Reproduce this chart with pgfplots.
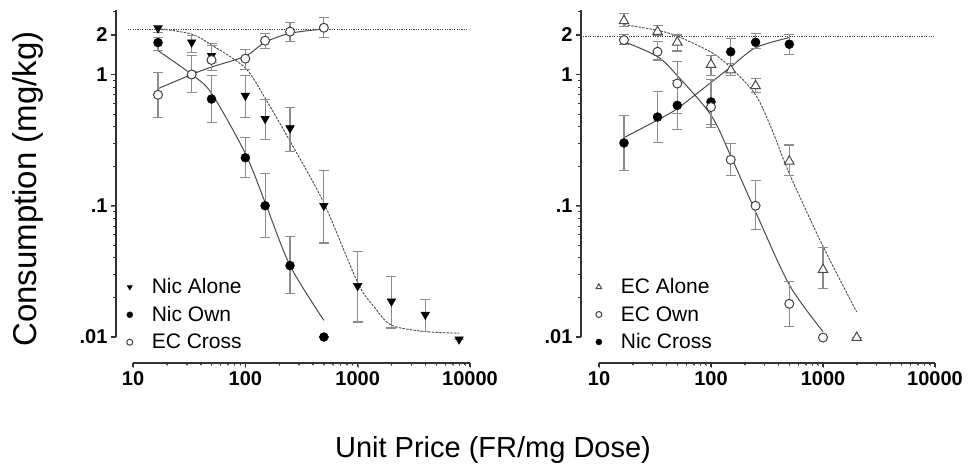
\documentclass[border=0pt]{standalone}
\usepackage{fontspec}
\setmainfont{Liberation Sans}
\usepackage{pgfplots}
\pgfplotsset{compat=1.18}

\definecolor{fitgray}{HTML}{4A4A4A}
\definecolor{errgray}{HTML}{8C8C8C}

\begin{document}
\begin{tikzpicture}
\path[use as bounding box] (0,0) rectangle (971pt,473pt);

%%%%%%%% left panel: nicotine %%%%%%%%
% tick labels of the x axis, set apart below the data
\begin{axis}[at={(133pt,110pt)}, anchor=south west, scale only axis, width=337pt, height=5pt,
  xmode=log, xmin=10, xmax=10000, ymin=0, ymax=1,
  axis x line*=bottom, hide y axis,
  tick align=outside, major tick length=5pt, minor tick length=3pt,
  xtick={10,100,1000,10000}, xticklabels={10,100,1000,10000},
  tick label style={font=\fontsize{20}{20}\selectfont\bfseries}]
\end{axis}
% tick labels of the y axis, set apart to the left
\begin{axis}[at={(116pt,136pt)}, anchor=south west, scale only axis, width=5pt, height=327pt,
  ymode=log, ymin=0.01, ymax=3.1, xmin=0, xmax=1,
  axis y line*=left, hide x axis,
  tick align=outside, major tick length=5pt, minor tick length=3pt,
  ytick={0.01,0.1,1,2}, yticklabels={.01,.1,1,2},
  tick label style={font=\fontsize{20}{20}\selectfont\bfseries}]
\end{axis}

\begin{axis}[
  at={(133pt,136pt)}, anchor=south west,
  scale only axis, width=337pt, height=327pt,
  xmode=log, ymode=log,
  xmin=10, xmax=10000, ymin=0.01, ymax=3.1,
  hide axis, clip=false,
  legend cell align=left,
  legend style={draw=none, fill=none, inner sep=0pt, row sep=7pt, column sep=17pt,
    font=\fontsize{21}{21}\selectfont, at={(-0.019,0.185)}, anchor=north west},
]
\addplot[black!75, line width=1pt, dash pattern=on 1.2pt off 1.2pt, forget plot]
  coordinates {(9,2.2) (9600,2.2)};

% fitted curves
\addplot[smooth, fitgray, line width=0.9pt, dash pattern=on 2.5pt off 1.2pt, forget plot] coordinates {
  (16.7,2.24) (33.3,2.03) (50,1.68) (100,1.12) (150,0.66) (250,0.31)
  (500,0.105) (1000,0.026) (1400,0.017) (2000,0.0123) (4000,0.011) (8000,0.0107)};
\addplot[smooth, fitgray, line width=1pt, forget plot] coordinates {
  (16.7,1.52) (33.3,1.0) (50,0.72) (100,0.25) (150,0.106) (250,0.035) (500,0.0134)};
\addplot[smooth, fitgray, line width=1pt, forget plot] coordinates {
  (16.7,0.78) (33.3,1.0) (50,1.14) (100,1.38) (150,1.76) (250,2.06) (500,2.22)};

% Nic Alone
\addplot[only marks, mark=triangle*, mark size=5pt, mark options={rotate=180, fill=black, draw=black},
  legend image post style={mark size=3pt},
  error bars/y dir=both, error bars/y explicit,
  error bars/error bar style={errgray, line width=1.1pt},
  error bars/error mark options={rotate=90, mark size=5pt, errgray, line width=1.1pt}]
coordinates {
  (16.7,2.25) += (0,0.12) -= (0,0.15)
  (33.3,1.76) += (0,0.22) -= (0,0.28)
  (50,1.39) += (0,0.27) -= (0,0.15)
  (100,0.69) += (0,0.29) -= (0,0.22)
  (150,0.46) += (0,0.18) -= (0,0.14)
  (250,0.39) += (0,0.17) -= (0,0.13)
  (500,0.1) += (0,0.085) -= (0,0.048)
  (1000,0.0245) += (0,0.0205) -= (0,0.0115)
  (2000,0.0187) += (0,0.0103) -= (0,0.007)
  (4000,0.0148) += (0,0.0046) -= (0,0.0038)
  (8000,0.0096) += (0,0) -= (0,0)
};
\addlegendentry{Nic Alone}
% Nic Own
\addplot[only marks, mark=*, mark size=4.5pt, mark options={fill=black, draw=black},
  legend image post style={mark size=3pt},
  error bars/y dir=both, error bars/y explicit,
  error bars/error bar style={errgray, line width=1.1pt},
  error bars/error mark options={rotate=90, mark size=5pt, errgray, line width=1.1pt}]
coordinates {
  (16.7,1.75) += (0,0.17) -= (0,0.22)
  (33.3,1.0) += (0,0.05) -= (0,0.05)
  (50,0.65) += (0,0.33) -= (0,0.22)
  (100,0.232) += (0,0.1) -= (0,0.067)
  (150,0.1) += (0,0.076) -= (0,0.043)
  (250,0.035) += (0,0.023) -= (0,0.0135)
  (500,0.01) += (0,0) -= (0,0)
};
\addlegendentry{Nic Own}
% EC Cross
\addplot[only marks, mark=*, mark size=4.5pt, mark options={fill=white, draw=black!75, line width=1pt},
  legend image post style={mark size=3pt},
  error bars/y dir=both, error bars/y explicit,
  error bars/error bar style={errgray, line width=1.1pt},
  error bars/error mark options={rotate=90, mark size=5pt, errgray, line width=1.1pt}]
coordinates {
  (16.7,0.70) += (0,0.34) -= (0,0.23)
  (33.3,1.0) += (0,0.4) -= (0,0.27)
  (50,1.29) += (0,0.42) -= (0,0.22)
  (100,1.32) += (0,0.22) -= (0,0.22)
  (150,1.81) += (0,0.23) -= (0,0.24)
  (250,2.12) += (0,0.38) -= (0,0.33)
  (500,2.27) += (0,0.43) -= (0,0.37)
};
\addlegendentry{EC Cross}
\end{axis}

%%%%%%%% right panel: e-cigarette %%%%%%%%
\begin{axis}[at={(599pt,110pt)}, anchor=south west, scale only axis, width=336pt, height=5pt,
  xmode=log, xmin=10, xmax=10000, ymin=0, ymax=1,
  axis x line*=bottom, hide y axis,
  tick align=outside, major tick length=5pt, minor tick length=3pt,
  xtick={10,100,1000,10000}, xticklabels={10,100,1000,10000},
  tick label style={font=\fontsize{20}{20}\selectfont\bfseries}]
\end{axis}
\begin{axis}[at={(581pt,136pt)}, anchor=south west, scale only axis, width=5pt, height=327pt,
  ymode=log, ymin=0.01, ymax=3.1, xmin=0, xmax=1,
  axis y line*=left, hide x axis,
  tick align=outside, major tick length=5pt, minor tick length=3pt,
  ytick={0.01,0.1,1,2}, yticklabels={.01,.1,1,2},
  tick label style={font=\fontsize{20}{20}\selectfont\bfseries}]
\end{axis}

\begin{axis}[
  at={(599pt,136pt)}, anchor=south west,
  scale only axis, width=336pt, height=327pt,
  xmode=log, ymode=log,
  xmin=10, xmax=10000, ymin=0.01, ymax=3.1,
  hide axis, clip=false,
  legend cell align=left,
  legend style={draw=none, fill=none, inner sep=0pt, row sep=7pt, column sep=17pt,
    font=\fontsize{21}{21}\selectfont, at={(-0.010,0.185)}, anchor=north west},
]
\addplot[black!75, line width=1pt, dash pattern=on 1.2pt off 1.2pt, forget plot]
  coordinates {(7.2,1.95) (9700,1.95)};

\addplot[smooth, fitgray, line width=0.9pt, dash pattern=on 2.5pt off 1.2pt, forget plot] coordinates {
  (16.7,2.4) (33.3,2.17) (50,1.96) (100,1.48) (150,1.13) (250,0.7) (350,0.38)
  (500,0.176) (1000,0.049) (2000,0.0155)};
\addplot[smooth, fitgray, line width=1pt, forget plot] coordinates {
  (16.7,1.78) (33.3,1.37) (50,0.98) (100,0.49) (150,0.24) (250,0.09) (500,0.025) (1000,0.011)};
\addplot[smooth, fitgray, line width=1pt, forget plot] coordinates {
  (16.7,0.33) (33.3,0.45) (50,0.55) (100,0.87) (150,1.14) (250,1.6) (500,1.91)};

% EC Alone
\addplot[only marks, mark=triangle*, mark size=5.5pt, mark options={fill=white, draw=black!70, line width=1pt},
  forget plot,
  error bars/y dir=both, error bars/y explicit,
  error bars/error bar style={errgray, line width=1.1pt},
  error bars/error mark options={rotate=90, mark size=5pt, errgray, line width=1.1pt}]
coordinates {
  (16.7,2.56) += (0,0.37) -= (0,0.24)
  (33.3,2.12) += (0,0.24) -= (0,0.14)
  (50,1.76) += (0,0.24) -= (0,0.25)
  (100,1.19) += (0,0.2) -= (0,0.21)
  (150,1.08) += (0,0.13) -= (0,0.1)
  (250,0.82) += (0,0.11) -= (0,0.09)
  (500,0.218) += (0,0.072) -= (0,0.048)
  (1000,0.0326) += (0,0.0154) -= (0,0.0093)
  (2000,0.0099) += (0,0) -= (0,0)
};
% Nic Cross
\addplot[only marks, mark=*, mark size=4.5pt, mark options={fill=black, draw=black},
  forget plot,
  error bars/y dir=both, error bars/y explicit,
  error bars/error bar style={errgray, line width=1.1pt},
  error bars/error mark options={rotate=90, mark size=5pt, errgray, line width=1.1pt}]
coordinates {
  (16.7,0.301) += (0,0.187) -= (0,0.116)
  (33.3,0.474) += (0,0.27) -= (0,0.17)
  (50,0.582) += (0,0.32) -= (0,0.2)
  (100,0.618) += (0,0.3) -= (0,0.2)
  (150,1.49) += (0,0.4) -= (0,0.28)
  (250,1.76) += (0,0.3) -= (0,0.18)
  (500,1.70) += (0,0.32) -= (0,0.28)
};
% EC Own
\addplot[only marks, mark=*, mark size=4.5pt, mark options={fill=white, draw=black!75, line width=1pt},
  forget plot,
  error bars/y dir=both, error bars/y explicit,
  error bars/error bar style={errgray, line width=1.1pt},
  error bars/error mark options={rotate=90, mark size=5pt, errgray, line width=1.1pt}]
coordinates {
  (16.7,1.83) += (0,0.2) -= (0,0.15)
  (33.3,1.49) += (0,0.29) -= (0,0.2)
  (50,0.853) += (0,0.4) -= (0,0.35)
  (100,0.565) += (0,0.35) -= (0,0.17)
  (150,0.224) += (0,0.072) -= (0,0.053)
  (250,0.1) += (0,0.055) -= (0,0.034)
  (500,0.0179) += (0,0.0086) -= (0,0.0059)
  (1000,0.0099) += (0,0) -= (0,0)
};

\addlegendimage{only marks, mark=triangle*, mark size=3.3pt, mark options={fill=white, draw=black!70, line width=1pt}}
\addlegendentry{EC Alone}
\addlegendimage{only marks, mark=*, mark size=3pt, mark options={fill=white, draw=black!75, line width=1pt}}
\addlegendentry{EC Own}
\addlegendimage{only marks, mark=*, mark size=3pt, mark options={fill=black, draw=black}}
\addlegendentry{Nic Cross}
\end{axis}

% axis lines and ticks, set apart from the data as in the original (positions in pt)
\begin{scope}[black!80, line width=1.3pt]
  \foreach \xo/\yo/\dec in {133/116/112.33, 599/581/112} {
    \draw (\xo pt,110pt) -- ({(\xo+3*\dec)*1pt},110pt);
    \draw (\yo pt,136pt) -- (\yo pt,463pt);
    \foreach \k in {0,1,2,3}
      \draw[line width=1.1pt] ({(\xo+\k*\dec)*1pt},110pt) -- ++(0,-4pt);
    \foreach \k in {0,1,2}
      \foreach \m in {0.30103,0.47712,0.60206,0.69897,0.77815,0.84510,0.90309,0.95424}
        \draw[line width=1pt] ({(\xo+(\k+\m)*\dec)*1pt},110pt) -- ++(0,-2.5pt);
    \foreach \y in {136,267.25,398.5,438.0}
      \draw[line width=1.1pt] (\yo pt,\y pt) -- ++(-5pt,0);
    \foreach \k in {0,1}
      \foreach \m in {0.30103,0.47712,0.60206,0.69897,0.77815,0.84510,0.90309,0.95424}
        \draw[line width=1pt] (\yo pt,{(136+(\k+\m)*131.25)*1pt}) -- ++(-3pt,0);
    \draw[line width=1pt] (\yo pt,461.1pt) -- ++(-3pt,0);
  }
\end{scope}

\node[font=\fontsize{33}{33}\selectfont, rotate=90] at (28pt,284pt) {Consumption (mg/kg)};
\node[font=\fontsize{29}{29}\selectfont] at (493pt,23pt) {Unit Price (FR/mg Dose)};
\end{tikzpicture}
\end{document}
